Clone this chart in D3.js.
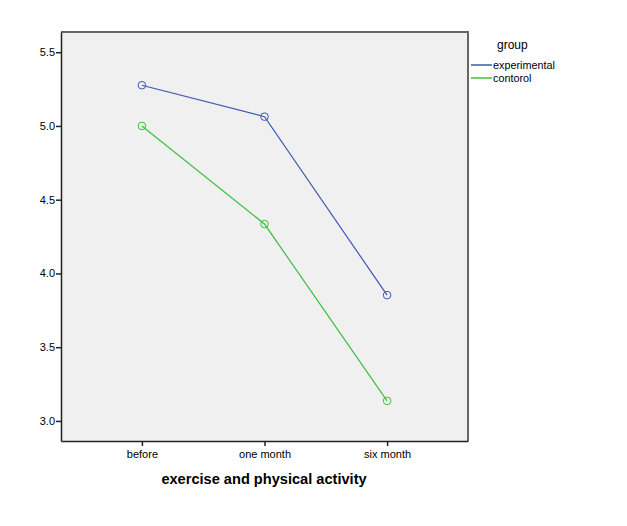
<!DOCTYPE html>
<html><head><meta charset="utf-8">
<script src="https://cdn.jsdelivr.net/npm/d3@7"></script>
<style>body{margin:0;background:#fff;} text{font-family:"Liberation Sans",Arial,sans-serif;}</style>
</head><body>
<svg id="c" width="627" height="526"></svg>
<script>
const categories = ["before", "one month", "six month"];
const seriesNames = ["experimental", "contorol"];
const experimental = [5.276, 5.063, 3.853];
const contorol = [5.0, 4.335, 3.136];
const yTicks = [3.0, 3.5, 4.0, 4.5, 5.0, 5.5];
const colors = ["#3f57ae", "#3cbf3c"];
const xTitle = "exercise and physical activity";
const legendTitle = "group";

const svg = d3.select("#c");
const L = 61, R = 468, T = 32, B = 441;
const x = d3.scalePoint().domain(categories).range([L, R]).padding(0.66);
const y = d3.scaleLinear().domain([2.864, 5.637]).range([B, T]);

svg.append("rect").attr("x", L).attr("y", T).attr("width", R - L).attr("height", B - T).attr("fill", "#f0f0f0");
svg.append("path").attr("d", `M${L},${T}H${R}V${B}`).attr("fill", "none").attr("stroke", "#666").attr("stroke-width", 2);

const ya = svg.append("g").attr("transform", `translate(${L},0)`)
  .call(d3.axisLeft(y).tickValues(yTicks).tickFormat(d3.format(".1f")).tickSize(5).tickSizeOuter(0));
ya.select(".domain").attr("stroke", "#222").attr("stroke-width", 1.5);
ya.selectAll(".tick line").attr("stroke", "#222").attr("stroke-width", 1.5);
ya.selectAll("text").attr("font-size", 11).attr("fill", "#000").attr("x", -6);

const xa = svg.append("g").attr("transform", `translate(0,${B})`)
  .call(d3.axisBottom(x).tickSize(5).tickSizeOuter(0));
xa.select(".domain").attr("stroke", "#222").attr("stroke-width", 1.5);
xa.selectAll(".tick line").attr("stroke", "#222").attr("stroke-width", 1.5);
xa.selectAll("text").attr("font-size", 11).attr("fill", "#000").attr("y", 9);

svg.append("text").attr("x", (L + R) / 2 - 0.5).attr("y", 484).attr("text-anchor", "middle")
  .attr("font-size", 14.6).attr("font-weight", "bold").text(xTitle);

const data = [experimental, contorol];
const line = d3.line().x((d, i) => x(categories[i])).y(d => y(d));
data.forEach((vals, s) => {
  svg.append("path").datum(vals).attr("d", line).attr("fill", "none").attr("stroke", colors[s]).attr("stroke-width", 1.2);
  svg.selectAll(null).data(vals).enter().append("circle")
    .attr("cx", (d, i) => x(categories[i])).attr("cy", d => y(d)).attr("r", 3.8)
    .attr("fill", "none").attr("stroke", colors[s]).attr("stroke-width", 1);
});

svg.append("text").attr("x", 497).attr("y", 49).attr("font-size", 12).text(legendTitle);
seriesNames.forEach((n, i) => {
  const yy = 65 + i * 13;
  svg.append("line").attr("x1", 471).attr("x2", 492).attr("y1", yy).attr("y2", yy).attr("stroke", colors[i]).attr("stroke-width", 1.5);
  svg.append("text").attr("x", 493).attr("y", yy + 4).attr("font-size", 10.8).text(n);
});
</script>
</body></html>
